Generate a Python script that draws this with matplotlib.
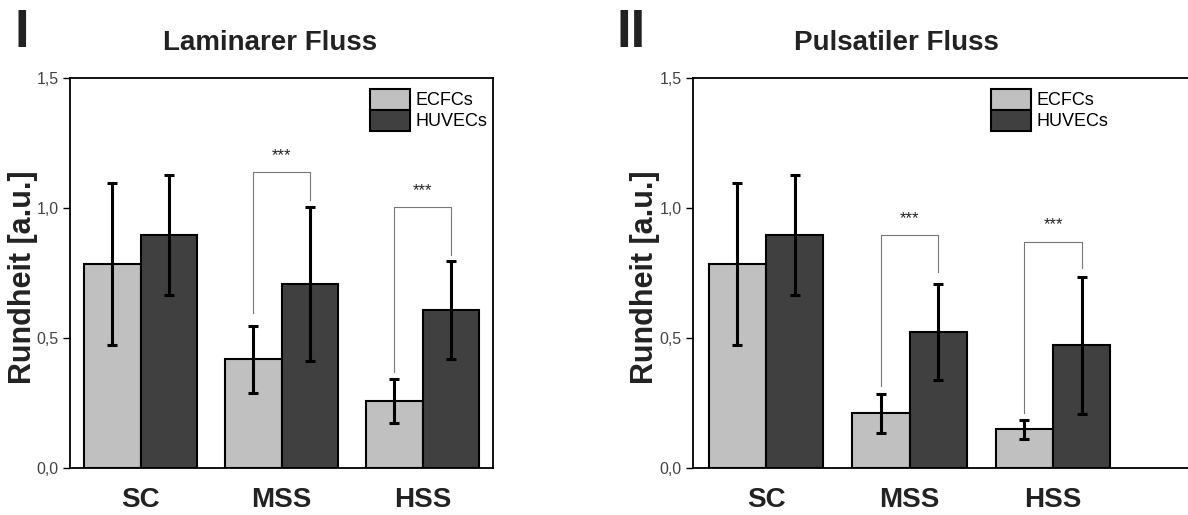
import matplotlib.pyplot as plt
import numpy as np

plt.rcParams['font.family'] = ['Liberation Sans', 'DejaVu Sans']

# данные
gruppen = ['SC', 'MSS', 'HSS']
serien = ['ECFCs', 'HUVECs']

lam_ecfc = [0.785, 0.418, 0.258]
lam_ecfc_err = [0.31, 0.13, 0.083]
lam_huvec = [0.896, 0.708, 0.608]
lam_huvec_err = [0.23, 0.295, 0.187]

pul_ecfc = [0.785, 0.210, 0.149]
pul_ecfc_err = [0.31, 0.075, 0.037]
pul_huvec = [0.896, 0.522, 0.472]
pul_huvec_err = [0.23, 0.184, 0.264]

# скобки значимости: группа, высота, низ слева, низ справа, высота звёзд
lam_sig = [(1, 1.14, 0.595, 1.03, 1.20), (2, 1.003, 0.37, 0.82, 1.067)]
pul_sig = [(1, 0.896, 0.315, 0.755, 0.96), (2, 0.870, 0.21, 0.768, 0.935)]

hell = '#c0c0c0'
dunkel = '#404040'
w = 0.4

fig = plt.figure(figsize=(11.88, 5.15), dpi=100)
ax1 = fig.add_axes([70 / 1188, 47 / 515, 423 / 1188, 390 / 515])
ax2 = fig.add_axes([693 / 1188, 47 / 515, 495 / 1188, 390 / 515])


def panel(ax, ecfc, ecfc_err, huvec, huvec_err, sig, xlim, legx):
    x = np.arange(len(gruppen))
    err_kw = dict(ecolor='black', elinewidth=2.2, capsize=3.5, capthick=2.2)
    ax.bar(x - w / 2, ecfc, w, yerr=ecfc_err, color=hell, edgecolor='black',
           linewidth=1.5, label=serien[0], error_kw=err_kw, zorder=2)
    ax.bar(x + w / 2, huvec, w, yerr=huvec_err, color=dunkel, edgecolor='black',
           linewidth=1.5, label=serien[1], error_kw=err_kw, zorder=2)
    for g, h, l, r, s in sig:
        xl, xr = g - w / 2, g + w / 2
        ax.plot([xl, xl, xr, xr], [l, h, h, r], color='#777777', lw=0.8, zorder=1)
        ax.text(g, s, '***', ha='center', va='center', fontsize=12, color='#222222')
    ax.set_xlim(*xlim)
    ax.set_ylim(0, 1.5)
    ax.set_yticks([0, 0.5, 1.0, 1.5])
    ax.set_yticklabels(['0,0', '0,5', '1,0', '1,5'])
    ax.set_xticks(x)
    ax.set_xticklabels(gruppen, fontsize=20, fontweight='bold', color='#222222')
    ax.tick_params(axis='x', length=0, pad=14)
    ax.tick_params(axis='y', length=5, width=1, labelsize=11.5, labelcolor='#444444', pad=3)
    for sp in ax.spines.values():
        sp.set_linewidth(1.3)
    ax.set_ylabel('Rundheit [a.u.]', fontsize=22, fontweight='bold', color='#222222')
    ax.legend(loc='upper left', bbox_to_anchor=(legx, 0.972), frameon=False,
              fontsize=13, handlelength=2.2, handleheight=1.4, labelspacing=0.0,
              handletextpad=0.3, borderpad=0, borderaxespad=0)


panel(ax1, lam_ecfc, lam_ecfc_err, lam_huvec, lam_huvec_err, lam_sig, (-0.5, 2.5), 0.709)
panel(ax2, pul_ecfc, pul_ecfc_err, pul_huvec, pul_huvec_err, pul_sig, (-0.509, 2.94), 0.602)
ax2.spines['right'].set_visible(False)

ax1.yaxis.set_label_coords(-0.075, 0.49)
ax2.yaxis.set_label_coords(-0.066, 0.49)

# заголовки и номера панелей
fig.text(270 / 1188, 1 - 50 / 515, 'Laminarer Fluss', ha='center', va='baseline',
         fontsize=20, fontweight='bold', color='#222222')
fig.text(896 / 1188, 1 - 50 / 515, 'Pulsatiler Fluss', ha='center', va='baseline',
         fontsize=20, fontweight='bold', color='#222222')
fig.text(14 / 1188, 1 - 47 / 515, 'I', ha='left', va='baseline',
         fontsize=38, fontweight='bold', color='#222222')
fig.text(617 / 1188, 1 - 47 / 515, 'II', ha='left', va='baseline',
         fontsize=38, fontweight='bold', color='#222222')

fig.savefig('out.png', dpi=100)
